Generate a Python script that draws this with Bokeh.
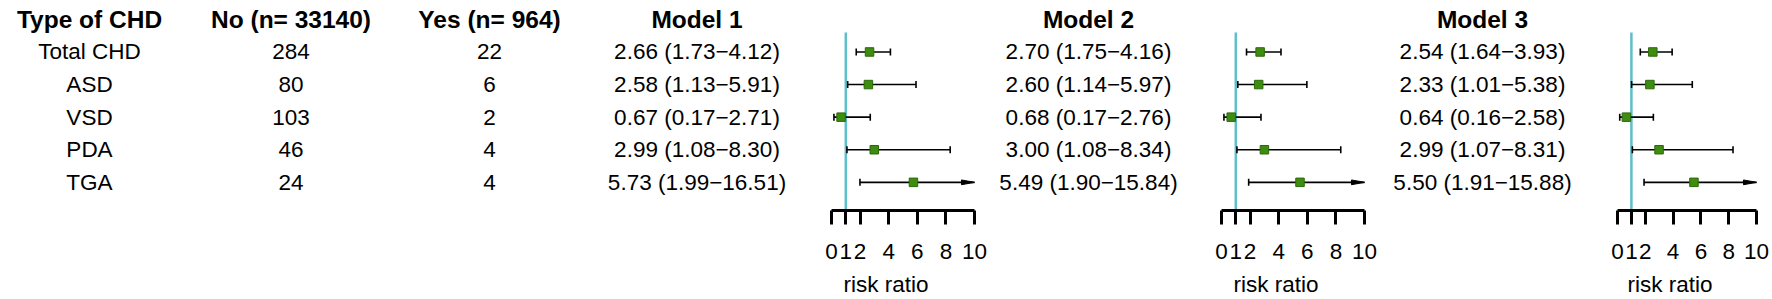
from math import pi
from bokeh.plotting import figure
from bokeh.layouts import row
from bokeh.models import Range1d, FixedTicker, ColumnDataSource, LinearAxis
from bokeh.core.properties import value
from bokeh.embed import file_html
from bokeh.resources import INLINE

# ---------------- data ----------------
chd_types = ["Total CHD", "ASD", "VSD", "PDA", "TGA"]
no_counts = [284, 80, 103, 46, 24]
yes_counts = [22, 6, 2, 4, 4]

m1_rr = [2.66, 2.58, 0.67, 2.99, 5.73]
m1_lo = [1.73, 1.13, 0.17, 1.08, 1.99]
m1_hi = [4.12, 5.91, 2.71, 8.30, 16.51]

m2_rr = [2.70, 2.60, 0.68, 3.00, 5.49]
m2_lo = [1.75, 1.14, 0.17, 1.08, 1.90]
m2_hi = [4.16, 5.97, 2.76, 8.34, 15.84]

m3_rr = [2.54, 2.33, 0.64, 2.99, 5.50]
m3_lo = [1.64, 1.01, 0.16, 1.07, 1.91]
m3_hi = [3.93, 5.38, 2.58, 8.31, 15.88]

headers = ["Type of CHD", "No (n= 33140)", "Yes (n= 964)"]
model_names = ["Model 1", "Model 2", "Model 3"]
x_ticks = [0, 1, 2, 4, 6, 8, 10]
x_label = "risk ratio"
null_value = 1
x_max = 10

# ---------------- layout / style ----------------
H = 299
ROW0_PX = 51.7
ROW_PX = 32.75
HEADER_ROW = -1.0
AXIS_BORDER = 88
FRAME_H = H - AXIS_BORDER
FONT = "Liberation Sans"
FS = "22.5px"
FS_B = "24.5px"
TEAL = "#5DBFCA"
GREEN = "#3E8C10"
GREEN_EDGE = "#2C6A08"

Y_TOP = -ROW0_PX / ROW_PX
Y_BOT = (FRAME_H - ROW0_PX) / ROW_PX

def base_fig(width, xr):
    p = figure(width=width, height=H, x_range=xr, y_range=Range1d(start=Y_BOT, end=Y_TOP),
               output_backend="svg", toolbar_location=None,
               x_axis_type=None, y_axis_type=None,
               min_border_left=0, min_border_right=0,
               min_border_top=0, min_border_bottom=AXIS_BORDER)
    p.outline_line_color = None
    p.grid.visible = False
    p.background_fill_color = "white"
    p.border_fill_color = "white"
    return p

def add_text(p, xs, ys, texts, bold=False):
    src = ColumnDataSource(dict(x=xs, y=ys, t=texts))
    p.text(x="x", y="y", text="t", source=src,
           text_font=value(FONT),
           text_font_size=value(FS_B if bold else FS),
           text_font_style="bold" if bold else "normal",
           text_align="center", text_baseline="middle", text_color="black")

rows_y = list(range(len(chd_types)))

def ci_labels(rr, lo, hi):
    return [f"{a:.2f} ({b:.2f}\u2212{c:.2f})" for a, b, c in zip(rr, lo, hi)]

# ---- left table + model 1 text ----
W_T1 = 795
t1 = base_fig(W_T1, Range1d(0, W_T1))
COL_X = [89, 290.5, 489, 696.5]
add_text(t1, COL_X[:3], [HEADER_ROW] * 3, headers, bold=True)
add_text(t1, [COL_X[3]], [HEADER_ROW], [model_names[0]], bold=True)
add_text(t1, [COL_X[0]] * 5, rows_y, chd_types)
add_text(t1, [COL_X[1]] * 5, rows_y, [str(v) for v in no_counts])
add_text(t1, [COL_X[2]] * 5, rows_y, [str(v) for v in yes_counts])
add_text(t1, [COL_X[3]] * 5, rows_y, ci_labels(m1_rr, m1_lo, m1_hi))

def text_fig(width, cx, name, rr, lo, hi):
    p = base_fig(width, Range1d(0, width))
    add_text(p, [cx], [HEADER_ROW], [name], bold=True)
    add_text(p, [cx] * 5, rows_y, ci_labels(rr, lo, hi))
    return p

def forest_fig(frame_left_px, frame_w, border_r, x0_px, px_per_unit, rr, lo, hi):
    width = frame_w + border_r
    xr = Range1d((frame_left_px - x0_px) / px_per_unit,
                 (frame_left_px + frame_w - x0_px) / px_per_unit)
    p = base_fig(width, xr)
    p.min_border_right = border_r
    # reference line at the null value
    p.segment(x0=[null_value], y0=[-0.6], x1=[null_value], y1=[Y_BOT],
              line_color=TEAL, line_width=2.5)
    hi_c = [min(h, x_max) for h in hi]
    src = ColumnDataSource(dict(y=rows_y, rr=rr, lo=lo, hi=hi_c))
    p.segment(x0="lo", y0="y", x1="hi", y1="y", source=src, line_color="black", line_width=1.6)
    p.scatter(x="lo", y="y", source=src, marker="dash", angle=pi / 2, size=7,
              line_color="black", line_width=1.6)
    capped = [i for i, h in enumerate(hi) if h <= x_max]
    arrowed = [i for i, h in enumerate(hi) if h > x_max]
    p.scatter(x=[hi[i] for i in capped], y=[rows_y[i] for i in capped], marker="dash",
              angle=pi / 2, size=7, line_color="black", line_width=1.6)
    head_len = 13 / px_per_unit
    head_hw = 2.4 / ROW_PX
    xs = [[x_max, x_max - head_len, x_max - head_len] for i in arrowed]
    ys = [[rows_y[i], rows_y[i] - head_hw, rows_y[i] + head_hw] for i in arrowed]
    p.patches(xs=xs, ys=ys, fill_color="black", line_color="black", line_width=1)
    p.scatter(x="rr", y="y", source=src, marker="square", size=8.5,
              fill_color=GREEN, line_color=GREEN_EDGE, line_width=1)
    ax = LinearAxis(ticker=FixedTicker(ticks=x_ticks), bounds=(0, x_max))
    ax.axis_line_width = 3
    ax.axis_line_color = "black"
    ax.major_tick_line_width = 3
    ax.major_tick_line_color = "black"
    ax.major_tick_out = 14
    ax.major_tick_in = 0
    ax.minor_tick_out = 0
    ax.minor_tick_in = 0
    ax.major_label_standoff = 19
    ax.major_label_text_font = FONT
    ax.major_label_text_font_size = FS
    ax.major_label_text_color = "black"
    ax.axis_label = x_label
    ax.axis_label_standoff = 10
    ax.axis_label_text_font = FONT
    ax.axis_label_text_font_size = FS
    ax.axis_label_text_font_style = "normal"
    ax.axis_label_text_color = "black"
    p.add_layout(ax, "below")
    return p

f1 = forest_fig(795, 181, 14, 831, 14.3, m1_rr, m1_lo, m1_hi)
t2 = text_fig(195, 98, model_names[1], m2_rr, m2_lo, m2_hi)
f2 = forest_fig(1185, 181, 14, 1221, 14.3, m2_rr, m2_lo, m2_hi)
t3 = text_fig(199, 102, model_names[2], m3_rr, m3_lo, m3_hi)
f3 = forest_fig(1579, 181, 12, 1617, 13.9, m3_rr, m3_lo, m3_hi)

layout = row(t1, f1, t2, f2, t3, f3, spacing=0)
open("out.html", "w").write(file_html(layout, INLINE))
